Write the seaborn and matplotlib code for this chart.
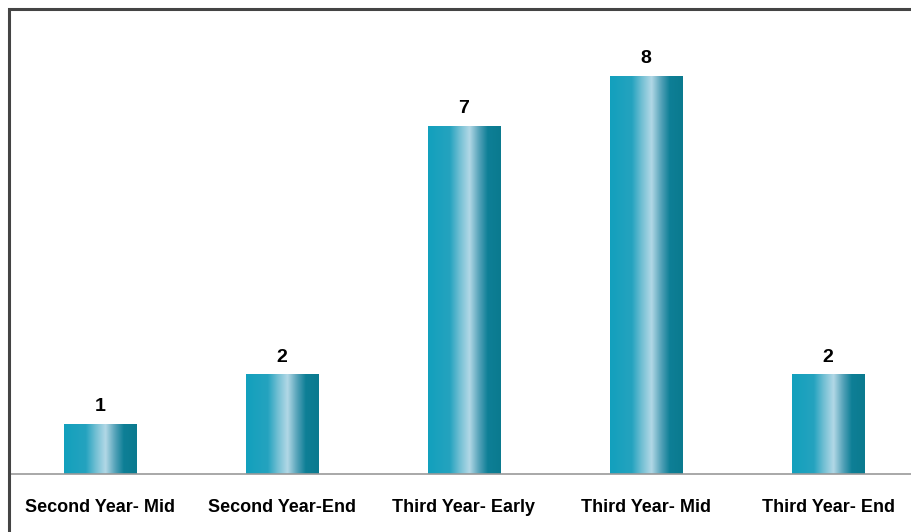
import numpy as np
import matplotlib
matplotlib.use("Agg")
import matplotlib.pyplot as plt
import seaborn as sns
from matplotlib.colors import LinearSegmentedColormap
from matplotlib.patches import Rectangle

categories = ["Second Year- Mid", "Second Year-End", "Third Year- Early",
              "Third Year- Mid", "Third Year- End"]
counts = [1, 2, 7, 8, 2]

sns.set_theme(style="white")
plt.rcParams["font.family"] = ["Liberation Sans", "DejaVu Sans"]

W, H = 911, 532
fig = plt.figure(figsize=(W / 100, H / 100), dpi=100)

# outer frame, runs past the right and bottom edges like the source
fig.patches.append(Rectangle((9 / W, -0.05), 1.2, 1 - 9 / H + 0.05,
                             transform=fig.transFigure, fill=False,
                             edgecolor="#444444", linewidth=2.2))

ax = fig.add_axes([10 / W, 58 / H, 901 / W, 464 / H])
sns.barplot(x=categories, y=counts, color="#1a9cb8", width=0.4, ax=ax)

grad = LinearSegmentedColormap.from_list(
    "bar", [(0.0, "#12a0bd"), (0.3, "#25a3bf"), (0.44, "#74c0d4"),
            (0.57, "#b2d8e6"), (0.7, "#56a3b9"), (0.82, "#0e7f96"),
            (1.0, "#0b7a8f")])
g = np.linspace(0, 1, 256).reshape(1, -1)
for bar, v in zip(ax.patches, counts):
    x0, w = bar.get_x(), bar.get_width()
    bar.set_facecolor("none")
    ax.imshow(g, cmap=grad, aspect="auto", extent=(x0, x0 + w, 0, v),
              zorder=bar.get_zorder())
    ax.text(x0 + w / 2, v + 0.18, str(v), ha="center", va="bottom",
            fontsize=14, fontweight="bold", color="black")

ax.set_xlim(-90 / 182, (911 - 100) / 182)
ax.set_ylim(0, 464 / 49.7)
ax.set_yticks([])
for s in ["top", "right", "left"]:
    ax.spines[s].set_visible(False)
ax.spines["bottom"].set_color("#999999")
ax.spines["bottom"].set_linewidth(1.2)
ax.tick_params(axis="x", length=0, pad=18)
for lbl in ax.get_xticklabels():
    lbl.set_fontsize(13)
    lbl.set_fontweight("bold")
    lbl.set_color("black")

fig.savefig("out.png", dpi=100)
